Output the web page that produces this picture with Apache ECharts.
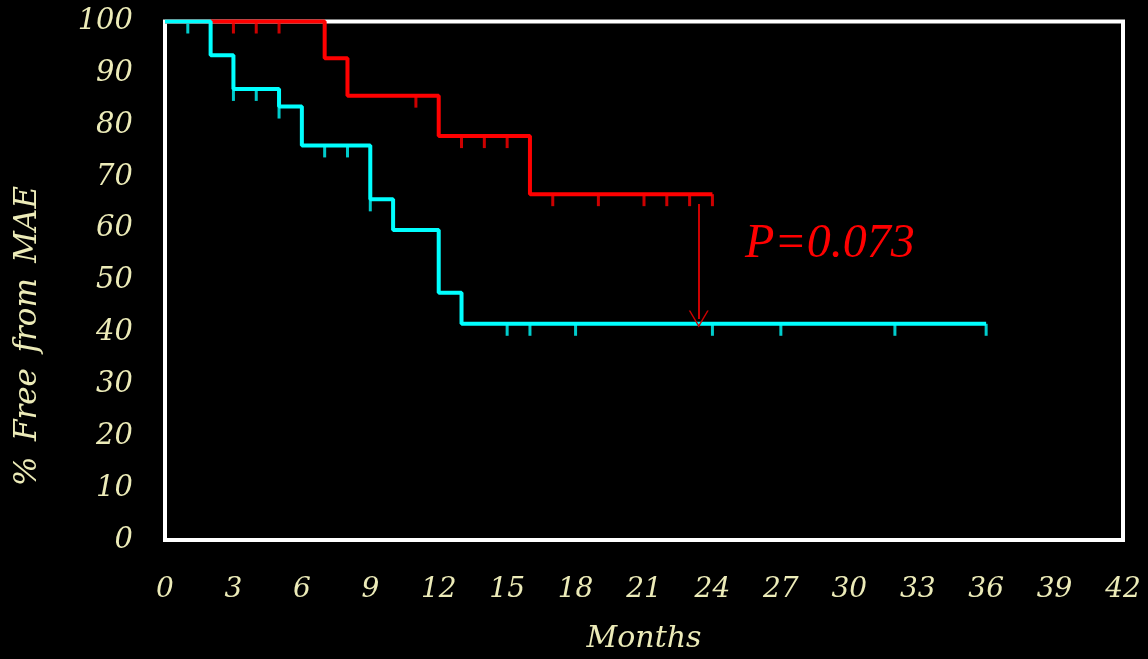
<!DOCTYPE html>
<html>
<head>
<meta charset="utf-8">
<script src="https://cdn.jsdelivr.net/npm/echarts@6/dist/echarts.min.js"></script>
<style>
  html, body { margin: 0; padding: 0; background: #000; }
  #chart { width: 1148px; height: 659px; }
</style>
</head>
<body>
<div id="chart"></div>
<script>
// Kaplan-Meier steps [month, % free]
const redSteps = [[0, 100], [7, 92.9], [8, 85.7], [12, 77.9], [16, 66.7], [24, 66.7]]
const cyanSteps = [[0, 100], [2, 93.5], [3, 87], [5, 83.6], [6, 76.1], [9, 65.7], [10, 59.8], [12, 47.7], [13, 41.7], [36, 41.7]]
// censored observations (months)
const redCensored = [3, 4, 5, 11, 13, 14, 15, 17, 19, 21, 22, 23, 24]
const cyanCensored = [1, 3, 4, 5, 7, 8, 9, 15, 16, 18, 24, 27, 32, 36]
// arrow between the curves and p-value note
const arrowFrom = [23.4, 64.8]
const arrowTo = [23.4, 42.6]
const pValueAt = [29.15, 57.1]
const pValueText = 'P=0.073'

const CREAM = '#ecebb8'
const FONT = '"DejaVu Serif", serif'

// value of a step curve at time t
function stepValue(steps, t) {
  let v = steps[0][1]
  steps.forEach(function (s) { if (s[0] <= t) v = s[1] })
  return v
}

function censorSeries(times, steps, color) {
  return {
    type: 'scatter',
    data: times.map(function (t) { return [t, stepValue(steps, t)] }),
    symbol: 'rect',
    symbolSize: [3, 12],
    symbolOffset: [0, 6],
    itemStyle: { color: color },
    clip: false,
    silent: true,
  }
}

const chart = echarts.init(document.getElementById('chart'))
chart.setOption({
  backgroundColor: '#000',
  animation: false,
  grid: {
    left: 165, right: 25, top: 21.5, bottom: 116.5,
    show: true, borderColor: '#fff', borderWidth: 4, backgroundColor: '#000',
  },
  xAxis: {
    type: 'value', min: 0, max: 42, interval: 3,
    name: 'Months', nameLocation: 'middle', nameGap: 84,
    nameTextStyle: { color: CREAM, fontFamily: FONT, fontStyle: 'italic', fontSize: 30 },
    axisLine: { show: false }, axisTick: { show: false }, splitLine: { show: false },
    axisLabel: { color: CREAM, fontFamily: FONT, fontStyle: 'italic', fontSize: 28, margin: 36 },
  },
  yAxis: {
    type: 'value', min: 0, max: 100, interval: 10,
    axisLine: { show: false }, axisTick: { show: false }, splitLine: { show: false },
    axisLabel: { color: CREAM, fontFamily: FONT, fontStyle: 'italic', fontSize: 29, margin: 32 },
  },
  graphic: [{
    type: 'text', x: 28, y: 336, rotation: Math.PI / 2,
    style: {
      text: '%\u2002Free\u2002from\u2002MAE', fill: CREAM, font: 'italic 31px ' + FONT,
      align: 'center', verticalAlign: 'middle',
    },
  }],
  series: [
    {
      type: 'line', step: 'end', data: redSteps, showSymbol: false, clip: false,
      lineStyle: { color: '#ff0000', width: 4 },
      markLine: {
        silent: true,
        symbol: ['none', 'path://M10,0 L20,20 L18.4,20 L10,3.5 L1.6,20 L0,20 Z'],
        symbolSize: [20, 17],
        label: { show: false },
        lineStyle: { color: '#cc0000', width: 2, type: 'solid' },
        data: [[{ coord: arrowFrom }, { coord: arrowTo }]],
      },
      markPoint: {
        silent: true,
        symbol: 'circle',
        symbolSize: 1,
        itemStyle: { color: 'rgba(0,0,0,0)' },
        data: [{ coord: pValueAt }],
        label: {
          show: true, position: 'inside', formatter: pValueText,
          color: '#ff0000', fontFamily: '"Liberation Serif", serif', fontStyle: 'italic', fontSize: 48,
        },
      },
    },
    censorSeries(redCensored, redSteps, '#ff0000'),
    {
      type: 'line', step: 'end', data: cyanSteps, showSymbol: false, clip: false,
      lineStyle: { color: '#00ffff', width: 4 },
    },
    censorSeries(cyanCensored, cyanSteps, '#00ffff'),
  ],
})
</script>
</body>
</html>
